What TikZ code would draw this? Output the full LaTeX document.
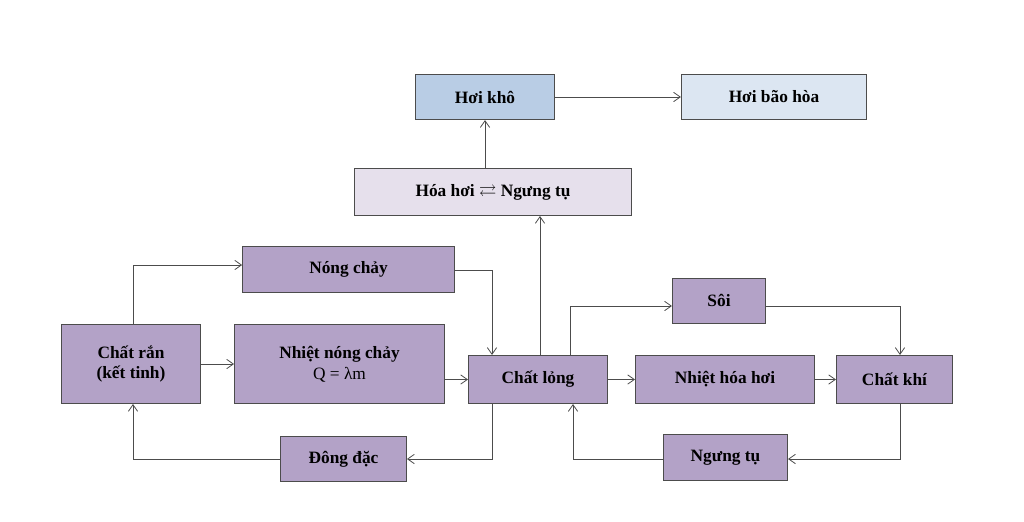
\documentclass[tikz,border=0pt]{standalone}
\usepackage{amssymb}
\usepackage{fontspec}
\setmainfont{Liberation Serif}
\usetikzlibrary{arrows.meta}
\definecolor{pur}{HTML}{B3A2C7}
\definecolor{blu}{HTML}{B9CDE5}
\definecolor{lblu}{HTML}{DCE6F2}
\definecolor{lpur}{HTML}{E6E0EC}
\begin{document}
\begin{tikzpicture}[x=0.75pt,y=-0.75pt,
 bx/.style={draw=black!70,line width=0.6pt,font=\bfseries\fontsize{13}{15}\selectfont,align=center,inner sep=0pt},
 ar/.style={draw=black!70,line width=0.6pt,-{Straight Barb[length=5pt,width=7pt]}}]
\useasboundingbox (0,0) rectangle (1024,521);
\newcommand{\bxat}[6]{\node[bx,fill=#6,minimum width=#4*0.75pt-0.6pt,minimum height=#5*0.75pt-0.6pt] (#1) at (#2,#3) {};}
\node[bx,fill=blu,minimum width=104.4pt,minimum height=34pt] (hk) at (485,97) {Hơi khô};
\node[bx,fill=lblu,minimum width=139pt,minimum height=34pt] (hb) at (774,97) {Hơi bão hòa};
\node[bx,fill=lpur,minimum width=208pt,minimum height=35.4pt] (hh) at (493,192) {Hóa hơi $\rightleftarrows$ Ngưng tụ};
\node[bx,fill=pur,minimum width=159pt,minimum height=34.6pt] (nc) at (348.5,269.5) {Nóng chảy};
\node[bx,fill=pur,minimum width=104.4pt,minimum height=59.4pt] (cr) at (131,364) {Chất rắn\\(kết tinh)};
\node[bx,fill=pur,minimum width=157.6pt,minimum height=59.4pt] (nn) at (339.5,364) {Nhiệt nóng chảy\\[1pt]{\mdseries Q = λm}};
\node[bx,fill=pur,minimum width=104.4pt,minimum height=36.2pt] (cl) at (538,379.5) {Chất lỏng};
\node[bx,fill=pur,minimum width=70pt,minimum height=33.6pt] (so) at (719,300.5) {Sôi};
\node[bx,fill=pur,minimum width=134.4pt,minimum height=36.2pt] (nh) at (725,379.5) {Nhiệt hóa hơi};
\node[bx,fill=pur,minimum width=87.2pt,minimum height=36.2pt] (ck) at (894.5,379.5) {Chất khí};
\node[bx,fill=pur,minimum width=94.6pt,minimum height=34pt] (dd) at (343.5,459) {Đông đặc};
\node[bx,fill=pur,minimum width=93.2pt,minimum height=34.6pt] (nt) at (725.5,457.5) {Ngưng tụ};
\coordinate (c1) at (133,265); \coordinate (c2) at (492,270);
\coordinate (c3) at (570,306); \coordinate (c4) at (900,306);
\coordinate (c5) at (900,459); \coordinate (c6) at (573,459);
\coordinate (c7) at (492,459); \coordinate (c8) at (133,459);
\draw[ar] (hk) -- (hb);
\draw[ar] (hh.north -| hk) -- (hk.south);
\draw[ar] (cl.north -| 540,0) -- (hh.south -| 540,0);
\draw[ar] (cr.north -| c1) -- (c1) -- (nc.west |- c1);
\draw[ar] (nc.east |- c2) -- (c2) -- (cl.north -| c2);
\draw[ar] (cr) -- (nn);
\draw[ar] (nn.east |- cl) -- (cl);
\draw[ar] (cl) -- (nh);
\draw[ar] (nh) -- (ck);
\draw[ar] (cl.north -| c3) -- (c3) -- (so.west |- c3);
\draw[ar] (so.east |- c4) -- (c4) -- (ck.north -| c4);
\draw[ar] (ck.south -| c5) -- (c5) -- (nt.east |- c5);
\draw[ar] (nt.west |- c6) -- (c6) -- (cl.south -| c6);
\draw[ar] (cl.south -| c7) -- (c7) -- (dd.east |- c7);
\draw[ar] (dd.west |- c8) -- (c8) -- (cr.south -| c8);
\end{tikzpicture}
\end{document}
